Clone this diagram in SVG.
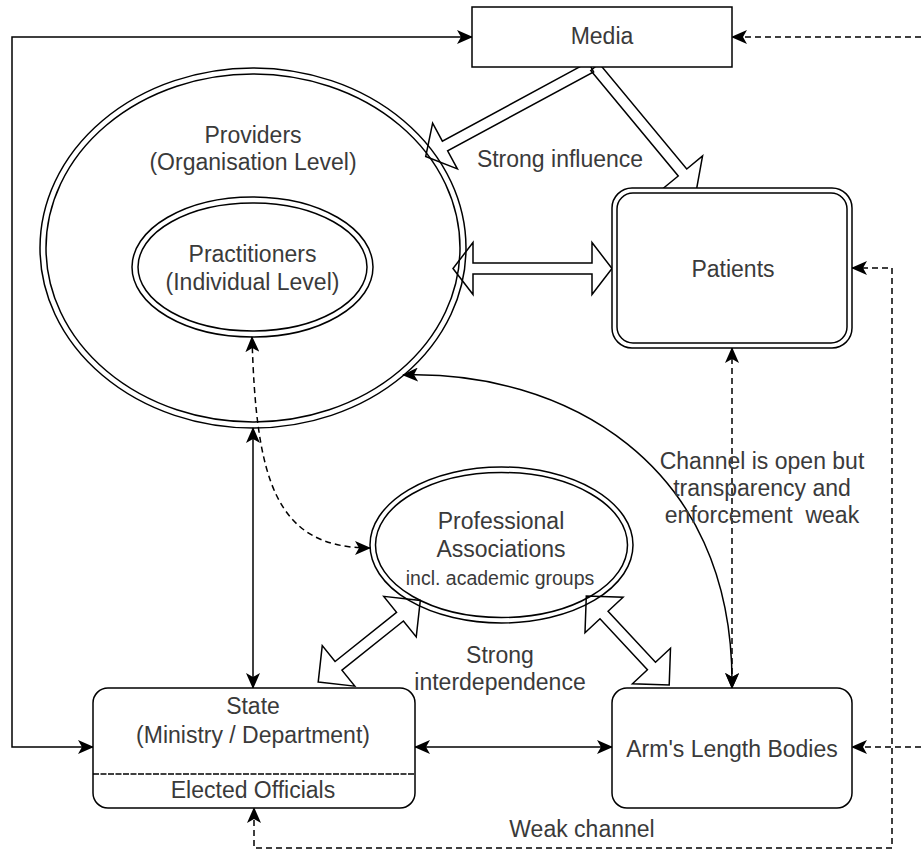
<svg xmlns="http://www.w3.org/2000/svg" width="922" height="850" viewBox="0 0 922 850">
<style>
  text { font-family: "Liberation Sans", Arial, Helvetica, sans-serif; font-size: 23px; fill: #3a3a3a; text-anchor: middle; }
  .small { font-size: 19.5px; }
  .node { fill: #fff; stroke: #000; stroke-width: 1.5; }
  .dbl { fill: none; stroke: #000; stroke-width: 1.5; }
  .block { fill: none; stroke: #000; stroke-width: 1.5; stroke-linejoin: miter; }
  .line { fill: none; stroke: #000; stroke-width: 1.5; }
  .dash { fill: none; stroke: #000; stroke-width: 1.5; stroke-dasharray: 6 4; }
  .arr { marker-start: url(#ah); marker-end: url(#ah); }
  .arrEnd { marker-end: url(#ah); }
</style>
<defs>
  <marker id="ah" viewBox="0 0 16 14" refX="15" refY="7" markerUnits="userSpaceOnUse" markerWidth="16" markerHeight="14" orient="auto-start-reverse">
    <path d="M0,0 L16,7 L0,14 L4,7 Z" fill="#000"/>
  </marker>
</defs>

<g id="providers">
  <ellipse class="node" cx="253" cy="248" rx="213" ry="180"/>
  <ellipse class="dbl" cx="253" cy="248" rx="207" ry="174"/>
  <text x="253" y="143">Providers</text>
  <text x="253" y="170">(Organisation Level)</text>
</g>

<g id="practitioners">
  <ellipse class="node" cx="252.5" cy="267" rx="120.5" ry="70"/>
  <ellipse class="dbl" cx="252.5" cy="267" rx="114.5" ry="64"/>
  <text x="252.5" y="262">Practitioners</text>
  <text x="252.5" y="290">(Individual Level)</text>
</g>

<g id="professional-associations">
  <ellipse class="node" cx="501.5" cy="545" rx="131.5" ry="78"/>
  <ellipse class="dbl" cx="501.5" cy="545" rx="126" ry="72.5"/>
  <text x="501" y="529">Professional</text>
  <text x="501" y="557">Associations</text>
  <text class="small" x="500" y="585">incl. academic groups</text>
</g>

<g id="connectors">
  <!-- hollow block arrows -->
  <path class="block" d="M588.38,62.17 L442.38,141.17 L432.62,123.15 L425.7,156.5 L457.38,168.85 L447.62,150.83 L593.62,71.83 Z"/>
  <path class="block" d="M590.75,70.49 L678.25,175.99 L662.43,189.01 L696.5,189.5 L702.57,155.99 L686.75,169.01 L599.25,63.51 Z"/>
  <path class="block" d="M453,268.5 L473,294.5 L473,274 L592,274 L592,294.5 L612,268.5 L592,242.5 L592,263 L473,263 L473,242.5 Z"/>
  <path class="block" d="M318.2,682.1 L354.75,686.15 L341.94,670.15 L403.44,620.95 L416.25,636.95 L420.3,600.4 L383.75,596.35 L396.56,612.35 L335.06,661.55 L322.25,645.55 Z"/>
  <path class="block" d="M586.3,596 L585,632.76 L600,618.78 L647.44,669.72 L632.44,683.7 L669.2,685 L670.5,648.24 L655.5,662.22 L608.06,611.28 L623.06,597.3 Z"/>

  <!-- thin connectors -->
  <path class="line arr" d="M93,747 L12,747 L12,37 L472,37"/>
  <path class="dash arrEnd" d="M921,37 L732,37"/>
  <path class="dash arr" d="M852,268 L892,268 L892,848 L254,848 L254,808"/>
  <path class="dash arrEnd" d="M921,747 L852,747"/>
  <path class="line arr" d="M253,428 L253,688"/>
  <path class="dash arr" d="M252,337 C256,480 275,548 370,548"/>
  <path class="line arr" d="M403,375 C560,370 735,460 732,688"/>
  <path class="dash arr" d="M732,348 L732,688"/>
  <path class="line arr" d="M415,747 L612,747"/>

  <!-- edge labels -->
  <text x="560" y="167">Strong influence</text>
  <text x="500" y="663">Strong</text>
  <text x="500" y="690">interdependence</text>
  <text x="762" y="469">Channel is open but</text>
  <text x="762" y="496">transparency and</text>
  <text x="762" y="523" xml:space="preserve">enforcement  weak</text>
  <text x="582" y="837">Weak channel</text>
</g>

<g id="media">
  <rect class="node" x="472" y="7" width="260" height="60"/>
  <text x="602" y="44">Media</text>
</g>

<g id="patients">
  <rect class="node" x="612" y="188" width="240" height="160" rx="20" ry="20"/>
  <rect class="dbl" x="617" y="193" width="230" height="150" rx="16" ry="16"/>
  <text x="733" y="277">Patients</text>
</g>

<g id="state">
  <rect class="node" x="93" y="688" width="322" height="120" rx="15" ry="15"/>
  <line x1="93" y1="774" x2="415" y2="774" stroke="#000" stroke-width="1.5" stroke-dasharray="6 1.5"/>
  <text x="253" y="714">State</text>
  <text x="253" y="743">(Ministry / Department)</text>
  <text x="253" y="798">Elected Officials</text>
</g>

<g id="arms-length-bodies">
  <rect class="node" x="612" y="688" width="240" height="120" rx="15" ry="15"/>
  <text x="732" y="757">Arm's Length Bodies</text>
</g>
</svg>
